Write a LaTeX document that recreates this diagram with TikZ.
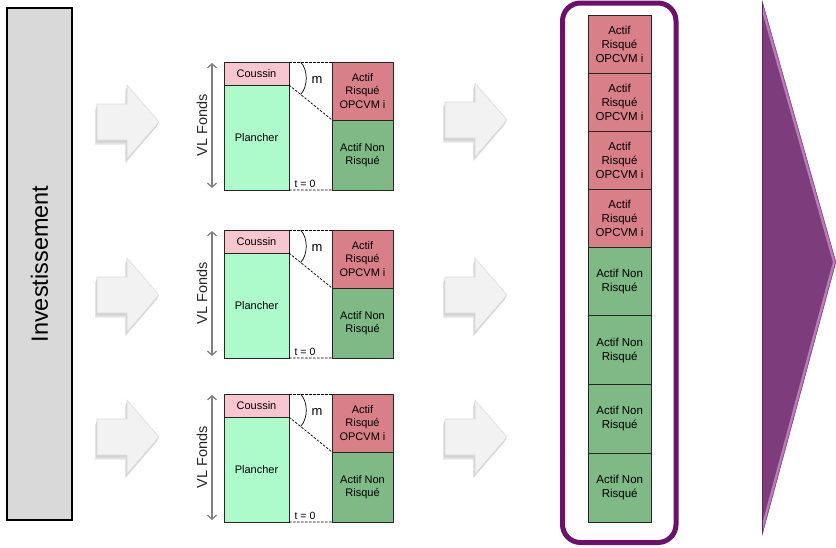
\documentclass[tikz,border=0pt]{standalone}
\usepackage{fontspec}
\setmainfont{Liberation Sans}
\usetikzlibrary{positioning,calc,arrows.meta}

\definecolor{coussin}{HTML}{F8C6CF}
\definecolor{plancher}{HTML}{ADFACB}
\definecolor{risque}{HTML}{D97F88}
\definecolor{nonrisque}{HTML}{7EB986}
\definecolor{invest}{HTML}{D9D9D9}
\definecolor{cadre}{HTML}{6C106B}
\definecolor{violet}{HTML}{7D3C7B}
\definecolor{violetclair}{HTML}{BC7CBA}
\definecolor{violetfonce}{HTML}{5A2858}
\definecolor{fleche}{HTML}{F2F2F2}
\definecolor{ombre}{HTML}{D2D2D2}

\begin{document}
\begin{tikzpicture}[scale=0.3515,
  cellbox/.style={draw=black!85, line width=0.7pt, inner sep=0pt, outer sep=0pt,
    align=center, font=\fontsize{11}{13.5}\selectfont},
  stackbox/.style={cellbox, minimum width=63pt, font=\fontsize{11.5}{14}\selectfont},
  pointille/.style={dashed, dash pattern=on 2.5pt off 1.5pt, line width=0.7pt},
  vlarrow/.style={black!50, line width=1.3pt,
    {Straight Barb[length=4pt,width=9pt]}-{Straight Barb[length=4pt,width=9pt]}}]
\useasboundingbox (0,0) rectangle (83.6,-54.8);

% investissement
\node[draw=black, line width=1.2pt, fill=invest, rotate=90, minimum width=512pt,
  minimum height=65pt, font=\fontsize{23.5}{28}\selectfont] (invest) at (3.95,-26.4) {Investissement};

% gray block arrows
\foreach \ax/\ay in {9.7/12.2, 9.7/29.5, 9.7/43.7, 44.5/12.0, 44.5/29.5, 44.5/43.7} {
  \fill[ombre!60] ([shift={(-0.2,-0.45)}]\ax,-\ay+1.8) -- ++(3.0,0) -- ++(0,1.9) -- ++(3.2,-3.7)
    -- ++(-3.2,-3.7) -- ++(0,1.9) -- ++(-3.0,0) -- cycle;
  \fill[ombre] ([shift={(-0.1,-0.25)}]\ax,-\ay+1.8) -- ++(3.0,0) -- ++(0,1.9) -- ++(3.2,-3.7)
    -- ++(-3.2,-3.7) -- ++(0,1.9) -- ++(-3.0,0) -- cycle;
  \draw[draw=black!14, line width=0.6pt, fill=fleche] (\ax,-\ay+1.8) -- ++(3.0,0) -- ++(0,1.9)
    -- ++(3.2,-3.7) -- ++(-3.2,-3.7) -- ++(0,1.9) -- ++(-3.0,0) -- cycle;
}

% the three funds
\foreach \i/\dy in {1/0, 2/16.8, 3/33.2} {
  \node[cellbox, fill=coussin, minimum width=65pt, minimum height=23pt, anchor=north west]
    (cous\i) at (22.4,-6.2-\dy) {Coussin};
  \node[cellbox, fill=plancher, minimum width=65pt, minimum height=105pt, below=0pt of cous\i]
    (plan\i) {Plancher};
  \node[cellbox, fill=risque, minimum width=61pt, minimum height=58pt, anchor=north west]
    (risq\i) at (33.2,-6.2-\dy) {Actif\\Risqué\\OPCVM i};
  \node[cellbox, fill=nonrisque, minimum width=61pt, minimum height=70pt, below=0pt of risq\i]
    (nonr\i) {Actif Non\\Risqué};
  \draw[pointille] (cous\i.north east) -- (risq\i.north west);
  \draw[pointille] (plan\i.south east) -- (nonr\i.south west);
  \draw[pointille] (cous\i.south east) -- (nonr\i.north west);
  \coordinate (ma\i) at ($(cous\i.north east)!0.27!(risq\i.north west)$);
  \coordinate (mb\i) at ($(cous\i.south east)!0.27!(nonr\i.north west)$);
  \draw[line width=0.7pt] (ma\i) .. controls +(0.75,-0.8) and +(0.75,0.8) .. (mb\i);
  \node[font=\fontsize{13}{15}\selectfont] (mlab\i) at (31.7,-8.0-\dy) {m};
  \node[font=\fontsize{10.5}{12}\selectfont] (tzero\i) at (30.5,-18.35-\dy) {t = 0};
  \node[rotate=90, font=\fontsize{14.5}{17}\selectfont, black!85] (vl\i) at (20.2,-12.5-\dy) {VL Fonds};
  \coordinate (vh\i) at (21.2,-6.3-\dy);
  \coordinate (vb\i) at (21.2,-18.8-\dy);
  \draw[vlarrow] (vh\i) -- (vb\i);
}

% the pooled portfolio
\node[stackbox, fill=risque, minimum height=58pt, anchor=north west] (s1) at (58.8,-1.5) {Actif\\Risqué\\OPCVM i};
\foreach \k [evaluate=\k as \p using int(\k-1)] in {2,...,4}
  \node[stackbox, fill=risque, minimum height=58pt, below=0pt of s\p] (s\k) {Actif\\Risqué\\OPCVM i};
\foreach \k [evaluate=\k as \p using int(\k-1)] in {5,...,8}
  \node[stackbox, fill=nonrisque, minimum height=68.75pt, below=0pt of s\p] (s\k) {Actif Non\\Risqué};
\draw[cadre, line width=5pt, rounded corners=18pt] (56.25,-0.3) rectangle (67.6,-54.25);

% big purple arrow
\begin{scope}
\clip (76.2,0) -- (83.6,-26.2) -- (76.2,-53.6) -- cycle;
\fill[violet] (76.2,0) rectangle (83.6,-53.6);
\draw[violetclair, line width=6pt] (76.2,0) -- (83.6,-26.2) -- (76.2,-53.6);
\draw[violet!80!violetclair, line width=1.2pt] (76.2,0) -- (83.6,-26.2) -- (76.2,-53.6);
\draw[violetfonce, line width=2.5pt] (76.2,0) -- (76.2,-53.6);
\end{scope}
\end{tikzpicture}
\end{document}
